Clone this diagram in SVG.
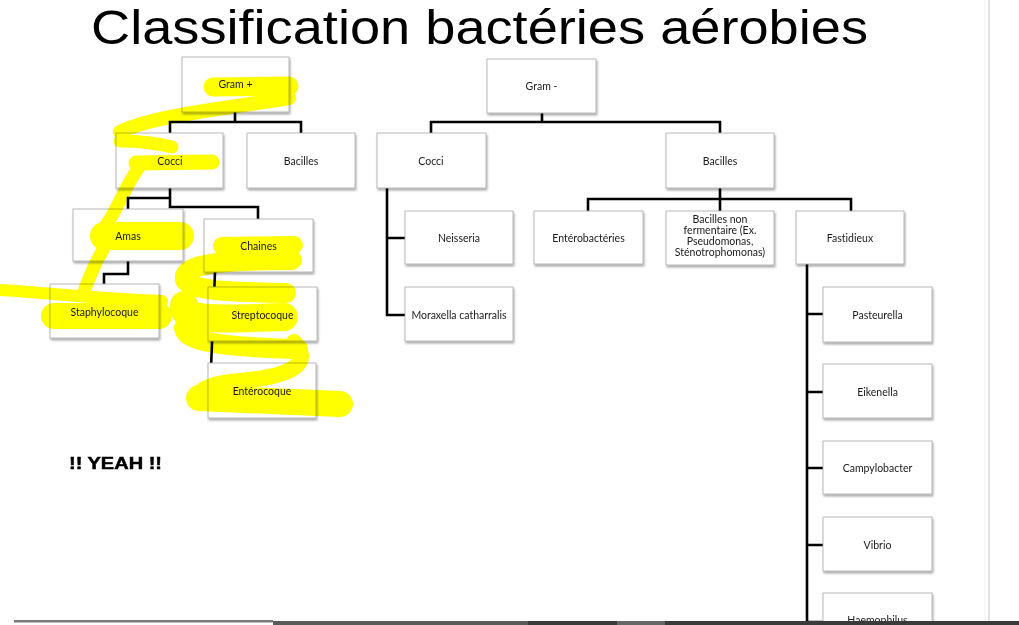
<svg xmlns="http://www.w3.org/2000/svg" width="1019" height="625" viewBox="0 0 1019 625">
<defs>
<filter id="sh" x="-10%" y="-10%" width="130%" height="140%">
<feDropShadow dx="1" dy="2" stdDeviation="1" flood-color="#000" flood-opacity="0.35"/>
</filter>
<style>
.box{fill:#fff;stroke:#a8a8a8;stroke-width:0.8;filter:url(#sh)}
.lbl{font-family:Lato,"Open Sans",sans-serif;font-size:10.5px;fill:#1a1a1a;text-anchor:middle;font-variant-ligatures:none}
.con{fill:none;stroke:#000;stroke-width:2.6;stroke-linejoin:miter}
.hl{fill:none;stroke:#ffff00;stroke-linecap:round;stroke-linejoin:round}
</style>
</defs>
<rect width="1019" height="625" fill="#fff"/>
<text x="91" y="44" font-family="Liberation Sans, Arial, sans-serif" font-size="48" textLength="777" lengthAdjust="spacingAndGlyphs" fill="#000">Classification bactéries aérobies</text>
<line x1="985" y1="0" x2="985" y2="621" stroke="#f0f0f0" stroke-width="1"/>
<line x1="989" y1="0" x2="989" y2="621" stroke="#d0d0d0" stroke-width="1.2"/>

<g id="connectors">
<path class="con" d="M235 112V122M170 133V122H301V133"/>
<path class="con" d="M170 188V198H128V209M170 198V207H258V219"/>
<path class="con" d="M128 261V274H104V284"/>
<path class="con" d="M215 272L210 392"/>
<path class="con" d="M542 113V122M431 133V122H720V133"/>
<path class="con" d="M387 188V315H405M387 238H405"/>
<path class="con" d="M720 188V211M588 211V199H851V211"/>
<path class="con" d="M807 264V622H823M807 314H823M807 392H823M807 468H823M807 545H823"/>
</g>

<g id="gram-pos"><rect class="box" x="182" y="57" width="107" height="55"/></g>
<g id="cocci-pos"><rect class="box" x="116" y="133" width="107" height="55"/></g>
<g id="bacilles-pos"><rect class="box" x="247" y="133" width="108" height="55"/><text class="lbl" x="301" y="164.5">Bacilles</text></g>
<g id="amas"><rect class="box" x="73" y="209" width="110" height="52"/></g>
<g id="chaines"><rect class="box" x="204" y="219" width="109" height="53"/></g>
<g id="staph"><rect class="box" x="50" y="284" width="109" height="54"/></g>
<g id="strepto"><rect class="box" x="208" y="287" width="109" height="54"/></g>
<g id="entero"><rect class="box" x="208" y="363" width="108" height="55"/></g>

<g id="highlight" style="mix-blend-mode:multiply">
<path class="hl" stroke-width="19" d="M213 87L289 86"/>
<path class="hl" stroke-width="14" d="M289 98C230 108 150 116 120 132"/>
<path class="hl" stroke-width="13" d="M120 141C140 141 160 144 172 147"/>
<path class="hl" stroke-width="15" d="M136 163L212 162"/>
<path class="hl" stroke-width="13" d="M140 166C125 185 118 210 104 228"/>
<path class="hl" stroke-width="28" d="M104 236L180 236"/>
<path class="hl" stroke-width="13" d="M103 250C94 265 88 280 84 292"/>
<path class="hl" stroke-width="12" d="M0 290C40 292 80 298 162 301"/>
<path class="hl" stroke-width="26" d="M54 316L159 316"/>
<path class="hl" stroke-width="18" d="M222 246L294 245"/>
<path class="hl" stroke-width="20" d="M292 260C230 260 188 263 185 276C182 290 220 292 286 293"/>
<path class="hl" stroke-width="28" d="M184 305C182 320 210 320 284 317"/>
<path class="hl" stroke-width="20" d="M184 328C186 342 222 347 298 349"/>
<path class="hl" stroke-width="16" d="M294 342C312 362 296 376 240 381C215 383 202 388 201 393"/>
<path class="hl" stroke-width="26" d="M199 398L340 404"/>
</g>

<g id="labels-pos">
<text class="lbl" x="235.5" y="88">Gram +</text>
<text class="lbl" x="170" y="164.5">Cocci</text>
<text class="lbl" x="128" y="239.5">Amas</text>
<text class="lbl" x="258.5" y="250">Chaines</text>
<text class="lbl" x="104.5" y="315.5">Staphylocoque</text>
<text class="lbl" x="262.5" y="319">Streptocoque</text>
<text class="lbl" x="262" y="395">Entérocoque</text>
</g>

<g id="gram-neg"><rect class="box" x="487" y="59" width="109" height="54"/><text class="lbl" x="541.5" y="90">Gram -</text></g>
<g id="cocci-neg"><rect class="box" x="377" y="133" width="109" height="55"/><text class="lbl" x="431" y="164.5">Cocci</text></g>
<g id="bacilles-neg"><rect class="box" x="666" y="133" width="108" height="55"/><text class="lbl" x="720" y="164.5">Bacilles</text></g>
<g id="neisseria"><rect class="box" x="405" y="211" width="108" height="53"/><text class="lbl" x="459" y="241.5">Neisseria</text></g>
<g id="moraxella"><rect class="box" x="405" y="287" width="108" height="54"/><text class="lbl" x="459" y="318.5">Moraxella catharralis</text></g>
<g id="enterobacteries"><rect class="box" x="534" y="211" width="109" height="53"/><text class="lbl" x="588.5" y="241.5">Entérobactéries</text></g>
<g id="bnf"><rect class="box" x="666" y="211" width="108" height="54"/>
<text class="lbl" x="720" y="223">Bacilles non</text>
<text class="lbl" x="720" y="234">fermentaire (Ex.</text>
<text class="lbl" x="720" y="245">Pseudomonas,</text>
<text class="lbl" x="720" y="256">Sténotrophomonas)</text></g>
<g id="fastidieux"><rect class="box" x="796" y="211" width="108" height="53"/><text class="lbl" x="850" y="241.5">Fastidieux</text></g>
<g id="pasteurella"><rect class="box" x="823" y="287" width="109" height="55"/><text class="lbl" x="877.5" y="318.5">Pasteurella</text></g>
<g id="eikenella"><rect class="box" x="823" y="364" width="109" height="54"/><text class="lbl" x="877.5" y="395.5">Eikenella</text></g>
<g id="campylobacter"><rect class="box" x="823" y="441" width="109" height="53"/><text class="lbl" x="877.5" y="471.5">Campylobacter</text></g>
<g id="vibrio"><rect class="box" x="823" y="517" width="109" height="54"/><text class="lbl" x="877.5" y="548.5">Vibrio</text></g>
<g id="haemophilus"><rect class="box" x="823" y="593" width="109" height="54"/><text class="lbl" x="877.5" y="624">Haemophilus</text></g>

<text x="69" y="469" font-family="Liberation Sans, Arial, sans-serif" font-weight="bold" font-size="17" stroke="#000" stroke-width="0.5" textLength="93" lengthAdjust="spacingAndGlyphs" fill="#000">!! YEAH !!</text>

<g id="bottom-bar">
<rect x="14" y="620" width="259" height="2.5" fill="#7a7a7a"/>
<rect x="273" y="621" width="255" height="4" fill="#5a5a5a"/>
<rect x="528" y="621" width="491" height="4" fill="#3a3a3a"/>
<rect x="617" y="621" width="48" height="4" fill="#666"/>
</g>
</svg>
